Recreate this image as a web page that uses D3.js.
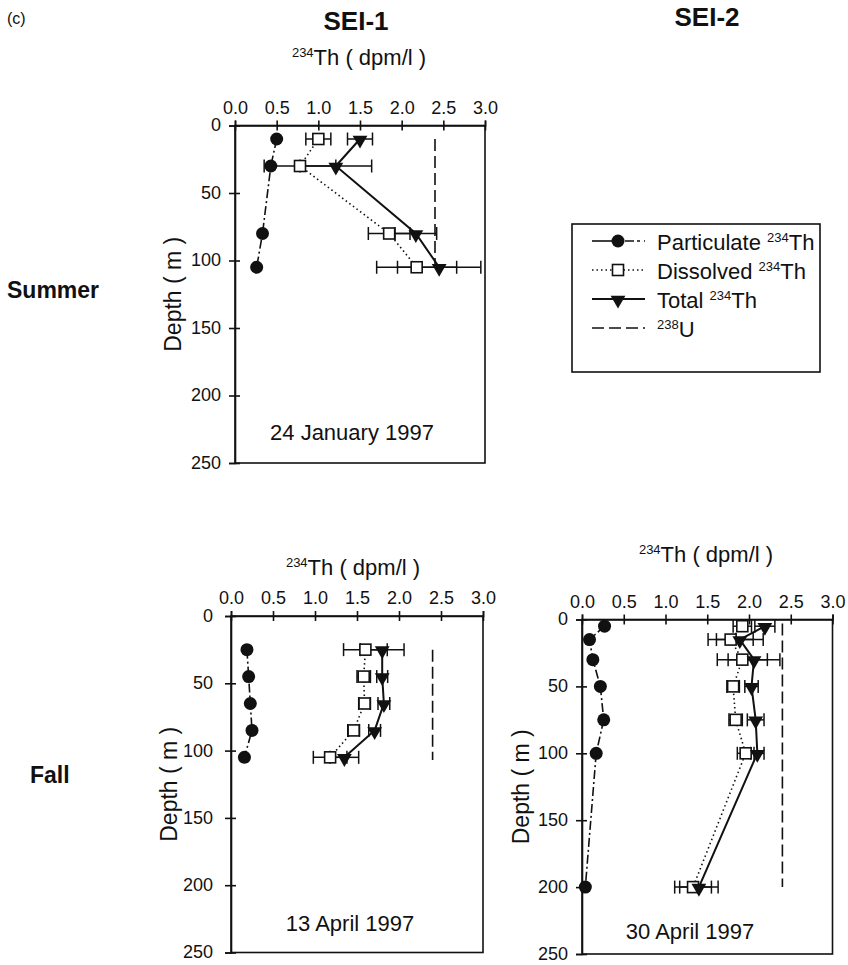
<!DOCTYPE html>
<html>
<head>
<meta charset="utf-8">
<script src="https://cdn.jsdelivr.net/npm/d3@7"></script>
<style>
  html, body { margin: 0; padding: 0; background: #fff; }
  svg { display: block; font-family: "Liberation Sans", Arial, Helvetica, sans-serif; }
</style>
</head>
<body>
<svg id="chart" width="848" height="965"></svg>
<script>
// ---- Data: 234Th depth profiles (dpm/l) ----
const xTicks = [0, 0.5, 1.0, 1.5, 2.0, 2.5, 3.0];
const depthTicks = [0, 50, 100, 150, 200, 250];
const uranium238 = 2.4;

// SEI-1, summer (24 January 1997)
const s1SumDepth = [10, 30, 80, 105];
const s1SumPart = [0.50, 0.43, 0.33, 0.26];
const s1SumDiss = [1.00, 0.78, 1.85, 2.18];
const s1SumDissErr = [0.15, 0.43, 0.25, 0.48];
const s1SumTotal = [1.50, 1.21, 2.17, 2.45];
const s1SumTotalErr = [0.15, 0.43, 0.25, 0.50];
const s1SumUDepth = [10, 105];

// SEI-1, fall (13 April 1997)
const s1FallDepth = [25, 45, 65, 85, 105];
const s1FallPart = [0.19, 0.21, 0.23, 0.25, 0.16];
const s1FallDiss = [1.60, 1.58, 1.59, 1.46, 1.18];
const s1FallDissErr = [0.26, 0.08, 0.07, 0.07, 0.20];
const s1FallTotal = [1.80, 1.80, 1.82, 1.71, 1.35];
const s1FallTotalErr = [0.26, 0.065, 0.07, 0.07, 0.17];
const s1FallUDepth = [25, 107];

// SEI-2, fall (30 April 1997)
const s2FallDepth = [5, 15, 30, 50, 75, 100, 200];
const s2FallPart = [0.27, 0.09, 0.13, 0.22, 0.26, 0.17, 0.04];
const s2FallDiss = [1.92, 1.78, 1.92, 1.81, 1.84, 1.96, 1.33];
const s2FallDissErr = [0.11, 0.27, 0.30, 0.075, 0.08, 0.10, 0.22];
const s2FallTotal = [2.19, 1.89, 2.06, 2.03, 2.08, 2.10, 1.40];
const s2FallTotalErr = [0.12, 0.28, 0.31, 0.08, 0.10, 0.08, 0.23];
const s2FallUDepth = [3, 200];

const svg = d3.select("#chart");
const INK = "#111";
const PART_DASH = "9,3,2,3";
const DISS_DASH = "1.5,3";
const U_DASH = "12,5";

// superscripted "234Th ( dpm/l )" style label
function isotopeText(g, x, y, sup, rest, size, anchor) {
  const t = g.append("text").attr("x", x).attr("y", y)
    .attr("font-size", size).attr("text-anchor", anchor || "middle").attr("fill", INK);
  t.append("tspan").attr("font-size", Math.round(size * 0.6)).attr("dy", -size * 0.38).text(sup);
  t.append("tspan").attr("dy", size * 0.38).text(rest);
  return t;
}

function triangleDown(g, cx, cy) {
  g.append("path")
    .attr("d", d3.symbol(d3.symbolTriangle, 95)())
    .attr("transform", `translate(${cx},${cy + 1}) rotate(180)`)
    .attr("fill", INK);
}
function square(g, cx, cy) {
  g.append("rect").attr("x", cx - 5.5).attr("y", cy - 5.5)
    .attr("width", 11).attr("height", 11)
    .attr("fill", "#fff").attr("stroke", INK).attr("stroke-width", 1.6);
}
function dot(g, cx, cy) {
  g.append("circle").attr("cx", cx).attr("cy", cy).attr("r", 6.5).attr("fill", INK);
}

function panel(cfg) {
  const x = d3.scaleLinear().domain([0, 3]).range([cfg.x0, cfg.x3]);
  const y = d3.scaleLinear().domain([0, 250]).range([cfg.y0, cfg.y250]);
  const g = svg.append("g");

  // frame
  g.append("rect").attr("x", x(0)).attr("y", y(0))
    .attr("width", x(3) - x(0)).attr("height", y(250) - y(0))
    .attr("fill", "none").attr("stroke", INK).attr("stroke-width", 1.6);

  // top value axis with ticks crossing the line
  const xa = g.append("g").attr("transform", `translate(0,${y(0)})`)
    .call(d3.axisTop(x).tickValues(xTicks).tickFormat(d3.format(".1f")).tickSize(5).tickPadding(7));
  xa.select(".domain").attr("stroke", INK).attr("stroke-width", 1.6);
  xa.selectAll(".tick line").attr("y1", 5).attr("y2", -5).attr("stroke", INK).attr("stroke-width", 1.6);
  xa.selectAll(".tick text").attr("font-size", 18).attr("fill", INK)
    .attr("font-family", "\"Liberation Sans\", Arial, sans-serif");

  // depth axis
  const ya = g.append("g").attr("transform", `translate(${x(0)},0)`)
    .call(d3.axisLeft(y).tickValues(depthTicks).tickFormat(d3.format("d")).tickSize(6).tickPadding(cfg.ypad));
  ya.select(".domain").attr("stroke", INK).attr("stroke-width", 1.6);
  ya.selectAll(".tick line").attr("x1", -6).attr("x2", 5).attr("stroke", INK).attr("stroke-width", 1.6);
  ya.selectAll(".tick text").attr("font-size", 18).attr("fill", INK).attr("dy", "0.3em")
    .attr("font-family", "\"Liberation Sans\", Arial, sans-serif");

  // axis titles
  isotopeText(g, cfg.titleX, cfg.titleY, "234", "Th ( dpm/l )", 22);
  g.append("text")
    .attr("transform", `translate(${cfg.depthX},${(y(0) + y(250)) / 2}) rotate(-90)`)
    .attr("text-anchor", "middle").attr("font-size", 23).attr("fill", INK)
    .text("Depth ( m )");
  g.append("text").attr("x", cfg.dateX).attr("y", cfg.dateY)
    .attr("text-anchor", "middle").attr("font-size", 22).attr("fill", INK)
    .text(cfg.date);

  const pts = (vals, depths) => vals.map((v, i) => [x(v), y(depths[i])]);
  const line = d3.line();

  // 238U
  g.append("path").attr("d", line(cfg.uDepth.map(d => [x(uranium238), y(d)])))
    .attr("fill", "none").attr("stroke", INK).attr("stroke-width", 1.6).attr("stroke-dasharray", U_DASH);

  // profiles
  g.append("path").attr("d", line(pts(cfg.part, cfg.depth)))
    .attr("fill", "none").attr("stroke", INK).attr("stroke-width", 1.6).attr("stroke-dasharray", PART_DASH);
  g.append("path").attr("d", line(pts(cfg.diss, cfg.depth)))
    .attr("fill", "none").attr("stroke", INK).attr("stroke-width", 1.6).attr("stroke-dasharray", DISS_DASH);
  g.append("path").attr("d", line(pts(cfg.total, cfg.depth)))
    .attr("fill", "none").attr("stroke", INK).attr("stroke-width", 2);

  // error bars
  function errBars(vals, errs) {
    vals.forEach((v, i) => {
      const cy = y(cfg.depth[i]);
      const a = x(v - errs[i]), b = x(v + errs[i]);
      g.append("line").attr("x1", a).attr("x2", b).attr("y1", cy).attr("y2", cy)
        .attr("stroke", INK).attr("stroke-width", 1.5);
      [a, b].forEach(cx => g.append("line").attr("x1", cx).attr("x2", cx)
        .attr("y1", cy - 6.5).attr("y2", cy + 6.5).attr("stroke", INK).attr("stroke-width", 1.5));
    });
  }
  errBars(cfg.diss, cfg.dissErr);
  errBars(cfg.total, cfg.totalErr);

  // markers
  cfg.part.forEach((v, i) => dot(g, x(v), y(cfg.depth[i])));
  cfg.diss.forEach((v, i) => square(g, x(v), y(cfg.depth[i])));
  cfg.total.forEach((v, i) => triangleDown(g, x(v), y(cfg.depth[i])));
}

panel({
  x0: 235, x3: 485, y0: 125.5, y250: 463, ypad: 8,
  titleX: 359, titleY: 65, depthX: 181, dateX: 352, dateY: 440,
  date: "24 January 1997",
  depth: s1SumDepth, part: s1SumPart, diss: s1SumDiss, dissErr: s1SumDissErr,
  total: s1SumTotal, totalErr: s1SumTotalErr, uDepth: s1SumUDepth
});
panel({
  x0: 231, x3: 483, y0: 616, y250: 952.5, ypad: 12,
  titleX: 353, titleY: 575, depthX: 177, dateX: 350, dateY: 931,
  date: "13 April 1997",
  depth: s1FallDepth, part: s1FallPart, diss: s1FallDiss, dissErr: s1FallDissErr,
  total: s1FallTotal, totalErr: s1FallTotalErr, uDepth: s1FallUDepth
});
panel({
  x0: 582, x3: 832.5, y0: 619.5, y250: 954, ypad: 8,
  titleX: 706, titleY: 562, depthX: 529, dateX: 690, dateY: 939,
  date: "30 April 1997",
  depth: s2FallDepth, part: s2FallPart, diss: s2FallDiss, dissErr: s2FallDissErr,
  total: s2FallTotal, totalErr: s2FallTotalErr, uDepth: s2FallUDepth
});

// headings
svg.append("text").attr("x", 7).attr("y", 24).attr("font-size", 16).attr("fill", INK).text("(c)");
svg.append("text").attr("x", 356).attr("y", 30).attr("text-anchor", "middle")
  .attr("font-size", 26).attr("font-weight", "bold").attr("fill", INK).text("SEI-1");
svg.append("text").attr("x", 707).attr("y", 26).attr("text-anchor", "middle")
  .attr("font-size", 26).attr("font-weight", "bold").attr("fill", INK).text("SEI-2");
svg.append("text").attr("x", 7).attr("y", 298)
  .attr("font-size", 23).attr("font-weight", "bold").attr("fill", INK).text("Summer");
svg.append("text").attr("x", 30).attr("y", 783)
  .attr("font-size", 23).attr("font-weight", "bold").attr("fill", INK).text("Fall");

// legend
const legendItems = [
  { sup: "234", pre: "Particulate ", post: "Th", kind: "part" },
  { sup: "234", pre: "Dissolved ", post: "Th", kind: "diss" },
  { sup: "234", pre: "Total ", post: "Th", kind: "total" },
  { sup: "238", pre: "", post: "U", kind: "u" }
];
const lg = svg.append("g");
lg.append("rect").attr("x", 572).attr("y", 224).attr("width", 248).attr("height", 148)
  .attr("fill", "#fff").attr("stroke", INK).attr("stroke-width", 1.6);
legendItems.forEach((it, i) => {
  const cy = 241 + i * 29;
  const x1 = 592, x2 = 645, mx = 618;
  if (it.kind === "part") {
    lg.append("line").attr("x1", x1).attr("x2", mx).attr("y1", cy).attr("y2", cy)
      .attr("stroke", INK).attr("stroke-width", 1.6);
    lg.append("line").attr("x1", mx).attr("x2", x2).attr("y1", cy).attr("y2", cy)
      .attr("stroke", INK).attr("stroke-width", 1.6).attr("stroke-dasharray", "3,4,9,3");
    dot(lg, mx, cy);
  } else if (it.kind === "diss") {
    lg.append("line").attr("x1", x1).attr("x2", x2).attr("y1", cy).attr("y2", cy)
      .attr("stroke", INK).attr("stroke-width", 1.6).attr("stroke-dasharray", DISS_DASH);
    square(lg, mx, cy);
  } else if (it.kind === "total") {
    lg.append("line").attr("x1", x1).attr("x2", x2).attr("y1", cy).attr("y2", cy)
      .attr("stroke", INK).attr("stroke-width", 2);
    triangleDown(lg, mx, cy);
  } else {
    lg.append("line").attr("x1", x1).attr("x2", x2).attr("y1", cy).attr("y2", cy)
      .attr("stroke", INK).attr("stroke-width", 1.6).attr("stroke-dasharray", U_DASH);
  }
  const t = lg.append("text").attr("x", 657).attr("y", cy + 9).attr("font-size", 22).attr("fill", INK);
  if (it.pre) t.append("tspan").text(it.pre);
  t.append("tspan").attr("font-size", 13).attr("dy", -8).text(it.sup);
  t.append("tspan").attr("dy", 8).text(it.post);
});
</script>
</body>
</html>
